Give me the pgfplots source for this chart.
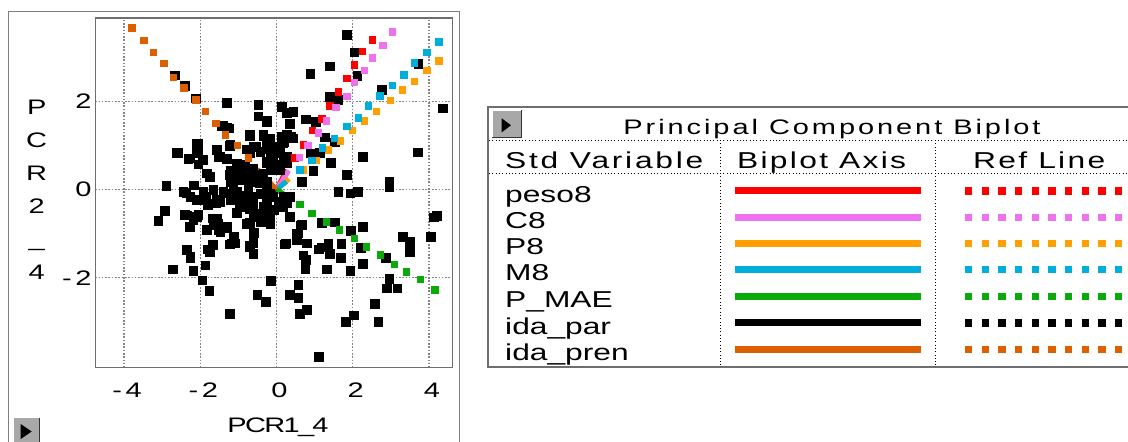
\documentclass[border=0pt]{standalone}
\usepackage{fontspec}
\setmainfont{Liberation Sans}[FakeStretch=1.38]
\usepackage{pgfplots}
\pgfplotsset{compat=1.18}
\definecolor{cRed}{HTML}{FF0000}
\definecolor{cPink}{HTML}{EE72EE}
\definecolor{cAmber}{HTML}{FFA000}
\definecolor{cCyan}{HTML}{00AEDC}
\definecolor{cGreen}{HTML}{0AAA0A}
\definecolor{cOrange}{HTML}{DD6000}
\definecolor{frameg}{HTML}{6E6E6E}
\definecolor{gridg}{HTML}{858585}
\definecolor{btn}{HTML}{A8A8A8}
\begin{document}
\begin{tikzpicture}
\path[use as bounding box] (0pt,0pt) rectangle (1128pt,-442pt);
\fill[white] (0pt,0pt) rectangle (1128pt,-442pt);
% left panel frame
\draw[gray, line width=1.2pt] (8.3pt,-460pt) -- (8.3pt,-11.7pt) -- (459.3pt,-11.7pt) -- (459.3pt,-460pt);
% left button
\fill[btn] (13.3pt,-417pt) rectangle (40pt,-446pt);
\draw[white, line width=1pt] (13.8pt,-446pt) -- (13.8pt,-417.5pt) -- (40pt,-417.5pt);
\draw[gray!40!black, line width=1pt] (39.5pt,-417.5pt) -- (39.5pt,-446pt);
\fill[black] (20.7pt,-424pt) -- (31.7pt,-431.5pt) -- (20.7pt,-439pt) -- cycle;
% axis labels
\node[font=\fontsize{21}{33}\selectfont, align=center, anchor=north, inner sep=0pt] at (36.7pt,-100pt) {P\\C\\R\\2\\\_\\4};
\node[font=\fontsize{21}{24}\selectfont\addfontfeatures{LetterSpace=-8}, anchor=base, inner sep=0pt] at (278pt,-432pt) {PCR1\_4};

\begin{axis}[at={(95.3pt,-367.7pt)}, anchor=south west, scale only axis,
  width=357.4pt, height=349.7pt,
  xmin=-4.756, xmax=4.625, ymin=-4.041, ymax=3.889,
  axis line style={draw=frameg, line width=1.3pt},
  xtick={-4,-2,0,2,4}, ytick={-2,0,2},
  xticklabels={{-\,4},{-\,2},0,2,4}, yticklabels={{-\,2},0,2},
  major tick length=0pt,
  grid=major, grid style={draw=gridg, line width=1.3pt, dash pattern=on 1.6pt off 1.7pt},
  tick label style={font=\fontsize{21}{24}\selectfont, inner sep=0pt},
  xticklabel style={anchor=north, yshift=-15pt, xshift=3pt},
  yticklabel style={anchor=east, xshift=-3.6pt},
  clip=true]
% observations
\addplot[only marks, mark=square*, mark size=4.3pt, black] coordinates {
(1.84,3.51) (2.04,3.11) (1.40,2.80) (0.88,2.62) (2.12,2.58) (3.72,2.85) (2.76,2.26) (1.40,2.11) (1.60,2.03) (4.36,1.84)
(0.13,1.88) (-0.48,1.92) (-1.31,1.97) (0.44,1.77) (0.26,1.74) (0.77,1.59) (1.03,1.54) (0.35,1.49) (-0.48,1.66) (-0.26,1.56)
(-1.45,1.44) (-1.31,1.40) (-0.70,1.22) (-0.35,1.22) (0.13,1.20) (0.39,1.20) (0.19,1.09) (1.27,1.19) (1.53,1.07) (-2.06,1.04)
(-1.23,0.99) (-0.79,0.91) (-0.53,0.98) (-0.26,0.99) (-0.09,0.88) (0.09,0.84) (-1.58,0.90) (-2.60,0.84) (-2.06,0.84) (-2.32,0.70)
(-1.53,0.75) (-1.31,0.70) (-2.06,0.57) (-1.93,0.66) (0.88,0.82) (1.14,0.84) (1.42,0.61) (2.26,0.75) (3.71,0.85) (0.96,0.43)
(1.84,0.34) (0.66,0.18) (2.96,0.18) (2.96,0.07) (1.62,-0.05) (1.93,-0.08) (2.13,-0.05) (-1.84,0.37) (-1.75,0.29) (-1.14,0.41)
(-0.88,0.45) (-0.61,0.48) (-0.26,0.60) (-0.09,0.67) (0.18,0.75) (0.26,0.60) (0.00,0.48) (-0.35,0.37) (-0.61,0.22) (-0.96,0.22)
(-1.23,0.34) (-0.44,0.14) (-0.26,0.07) (-0.74,-0.01) (-2.89,0.08) (-2.19,0.10) (-2.37,-0.07) (-2.10,-0.23) (-1.84,-0.16) (-1.58,-0.23)
(-1.31,-0.08) (-1.14,-0.01) (-0.96,-0.16) (-0.79,-0.23) (-0.61,-0.16) (-0.26,-0.08) (-0.09,-0.16) (0.18,-0.16) (0.35,-0.17) (0.26,-0.31)
(0.04,-0.27) (-1.80,-0.35) (-1.58,-0.31) (-1.14,-0.23) (-0.79,-0.39) (-0.61,-0.42) (-0.35,-0.39) (-0.18,-0.46) (-0.44,-0.54) (-0.61,-0.54)
(-1.05,-0.52) (-2.94,-0.48) (-3.11,-0.71) (-2.41,-0.57) (-2.06,-0.57) (-2.19,-0.69) (-2.28,-0.84) (-1.67,-0.65) (-1.53,-0.76) (-1.31,-0.84)
(-1.53,-0.91) (-1.84,-0.91) (-0.70,-0.75) (-0.35,-0.73) (-0.26,-0.61) (0.33,-0.61) (0.66,-0.80) (1.18,-0.75) (1.52,-0.74) (1.94,-0.93)
(2.26,-0.85) (4.21,-0.60) (4.12,-0.63) (4.05,-1.07) (3.32,-1.07) (3.49,-1.19) (3.50,-1.41) (-0.59,-0.98) (-1.11,-1.07) (-1.23,-1.24)
(-1.10,-1.22) (-1.67,-1.24) (-1.80,-1.35) (-0.61,-1.22) (-0.70,-1.31) (-0.61,-1.44) (-2.37,-1.37) (-2.26,-1.54) (-1.87,-1.72) (-2.72,-1.81)
(-2.19,-1.84) (-1.95,-2.06) (-1.77,-2.29) (-0.16,-2.07) (0.57,-0.99) (0.53,-1.13) (0.24,-1.22) (1.36,-1.23) (1.70,-1.23) (1.10,-1.35)
(1.18,-1.31) (1.40,-1.46) (1.68,-1.54) (0.76,-1.59) (0.75,-1.81) (1.31,-1.81) (1.93,-1.84) (2.26,-1.68) (2.21,-1.32) (2.87,-1.54)
(2.96,-2.02) (2.89,-2.24) (3.17,-2.24) (2.58,-2.59) (2.67,-3.00) (1.81,-3.00) (2.02,-2.85) (1.10,-3.79) (0.57,-2.16) (0.35,-2.38)
(0.57,-2.45) (0.61,-2.82) (0.79,-2.73) (-0.51,-2.38) (-0.29,-2.54) (-1.23,-2.82) (-2.67,2.59) (-2.41,2.35) (-2.12,2.07)
(-1.40,1.46) (-1.26,1.39) (-0.26,1.54) (0.35,1.50) (-0.70,1.24) (-0.35,1.24) (-0.17,1.16) (0.27,1.24) (0.44,1.16) (-2.10,1.05)
(-1.22,1.01) (-1.57,0.90) (-0.61,0.97) (-0.26,0.93) (0.00,0.97) (0.18,1.05) (-2.62,0.84) (-2.10,0.86) (-1.92,0.67) (-2.27,0.71)
(-1.48,0.74) (-1.31,0.71) (-0.70,0.82) (-0.43,0.86) (-0.17,0.74) (0.09,0.82) (0.27,0.74) (-1.05,0.59) (-0.83,0.56) (-0.26,0.63)
(0.00,0.56) (-1.83,0.37) (-1.75,0.29) (-1.22,0.44) (-1.09,0.37) (-0.87,0.44) (-0.70,0.37) (-0.17,0.44) (0.09,0.44) (-0.52,0.33)
(-1.22,0.18) (-0.96,0.22) (-0.70,0.18) (-0.26,0.18) (0.66,0.18) (-2.18,0.10) (-2.45,-0.05) (-2.27,-0.16) (-1.92,-0.05) (-1.66,-0.01)
(-1.40,-0.05) (-1.05,-0.05) (-0.78,-0.13) (-0.43,-0.09) (-0.17,-0.09) (-1.92,-0.24) (-1.75,-0.31) (-1.48,-0.28) (-1.22,-0.24) (-0.96,-0.20)
(-0.61,-0.31) (-0.26,-0.24) (0.09,-0.31) (0.35,-0.16) (-0.96,-0.39) (-0.70,-0.43) (-0.35,-0.43) (-0.08,-0.46) (0.18,-0.39) (-2.36,-0.58)
(-2.10,-0.62) (-1.57,-0.65) (-1.05,-0.54) (-0.52,-0.62) (-0.17,-0.62) (0.35,-0.62) (-2.27,-0.84) (-1.66,-0.81) (-1.31,-0.88) (-0.78,-0.77)
(-0.43,-0.73) (-0.17,-0.77) (0.62,-0.81) (-1.83,-0.92) (-1.48,-0.96) (-0.61,-0.99) (0.53,-0.99) (-1.13,-1.07) (-1.66,-1.26) (-1.75,-1.41)
(-1.18,-1.22) (-0.70,-1.26) (-0.61,-1.18) (0.22,-1.24) (0.53,-1.15) (0.79,-1.22) (-2.36,-1.37) (-2.27,-1.52) (-0.61,-1.45) (0.70,-1.49)
};
% reference lines
\addplot[only marks, mark=square*, mark size=3.2pt, cRed] coordinates {
(2.51,3.40) (2.25,3.13) (2.04,2.83) (1.84,2.52) (1.62,2.22) (1.40,1.90) (1.19,1.61) (0.93,1.34) (0.70,1.02) (0.48,0.72)};
\addplot[only marks, mark=square*, mark size=3.2pt, cPink] coordinates {
(3.03,3.58) (2.79,3.27) (2.51,2.99) (2.30,2.70) (2.04,2.43) (1.84,2.12) (1.55,1.86) (1.31,1.56) (1.10,1.29) (0.82,1.00) (0.60,0.73)};
\addplot[only marks, mark=square*, mark size=3.2pt, cAmber] coordinates {
(4.26,2.92) (3.94,2.70) (3.62,2.46) (3.30,2.26) (2.99,2.03) (2.61,1.77) (2.30,1.56) (1.98,1.34) (1.67,1.11) (1.36,0.90) (1.03,0.67) (0.70,0.45)};
\addplot[only marks, mark=square*, mark size=3.2pt, cCyan] coordinates {
(4.26,3.35) (3.94,3.12) (3.62,2.88) (3.34,2.60) (3.03,2.37) (2.71,2.13) (2.40,1.90) (2.15,1.63) (1.84,1.43) (1.52,1.16) (1.20,0.95) (0.92,0.67) (0.61,0.45)};
\addplot[only marks, mark=square*, mark size=3.2pt, cGreen] coordinates {
(0.61,-0.34) (0.92,-0.54) (1.30,-0.73) (1.65,-0.91) (2.04,-1.11) (2.36,-1.30) (2.72,-1.48) (3.09,-1.70) (3.41,-1.86) (3.77,-2.04) (4.15,-2.27)};
\addplot[only marks, mark=square*, mark size=3.2pt, cOrange] coordinates {
(-3.80,3.67) (-3.49,3.39) (-3.24,3.12) (-2.96,2.87) (-2.71,2.55) (-2.44,2.31) (-2.12,2.04) (-1.87,1.77) (-1.60,1.51) (-1.34,1.24) (-1.03,1.00) (-0.75,0.72)};
% biplot axes
\addplot[cRed, line width=5pt] coordinates {(0,0) (0.27,0.45)};
\addplot[cPink, line width=5pt] coordinates {(0,0) (0.32,0.43)};
\addplot[cAmber, line width=5pt] coordinates {(0,0) (0.33,0.24)};
\addplot[cCyan, line width=5pt] coordinates {(0,0) (0.26,0.18)};
\addplot[cGreen, line width=5pt] coordinates {(0,0) (0.22,-0.12)};
\addplot[black, line width=5pt] coordinates {(0,0) (-0.15,0.05)};
\addplot[cOrange, line width=5pt] coordinates {(0,0) (-0.51,0.46)};
\end{axis}

% legend table frame
\draw[frameg, line width=1.8pt] (1140pt,-107pt) -- (488pt,-107pt) -- (488pt,-367pt) -- (1140pt,-367pt);
\fill[btn] (491.7pt,-110pt) rectangle (521.7pt,-138.3pt);
\draw[white, line width=1pt] (492.2pt,-138.3pt) -- (492.2pt,-110.5pt) -- (521.7pt,-110.5pt);
\draw[gray!40!black, line width=1.2pt] (492pt,-137.7pt) -- (521.1pt,-137.7pt) -- (521.1pt,-110pt);
\fill[black] (501.7pt,-118.3pt) -- (511pt,-125.3pt) -- (501.7pt,-132.3pt) -- cycle;
\begin{scope}[black, line width=0.8pt, dash pattern=on 0.9pt off 2.4pt]
\draw (489pt,-140pt) -- (1128pt,-140pt);
\draw (489pt,-173pt) -- (1128pt,-173pt);
\draw (720.7pt,-140pt) -- (720.7pt,-366pt);
\draw (935.7pt,-140pt) -- (935.7pt,-366pt);
\end{scope}
\node[font=\fontsize{21}{24}\selectfont\addfontfeatures{LetterSpace=14}, anchor=base, inner sep=0pt] at (832pt,-134.5pt) {Principal Component Biplot};
\begin{scope}[every node/.style={font=\fontsize{23}{26}\selectfont, anchor=base west, inner sep=0pt}]
\node[font=\fontsize{23}{26}\selectfont\addfontfeatures{LetterSpace=12}] at (505pt,-168.5pt) {Std Variable};
\node[font=\fontsize{23}{26}\selectfont\addfontfeatures{LetterSpace=10}] at (737pt,-168.5pt) {Biplot Axis};
\node[font=\fontsize{23}{26}\selectfont\addfontfeatures{LetterSpace=10}] at (973pt,-168.5pt) {Ref Line};
\node at (505pt,-202pt) {peso8};
\node at (505pt,-228.6pt) {C8};
\node at (505pt,-254.8pt) {P8};
\node at (505pt,-280.8pt) {M8};
\node at (505pt,-307.3pt) {P\_MAE};
\node at (505pt,-334pt) {ida\_par};
\node at (505pt,-360.6pt) {ida\_pren};
\end{scope}

\begin{axis}[at={(488pt,-367pt)}, anchor=south west, scale only axis,
  width=652pt, height=260pt, xmin=488, xmax=1140, ymin=107, ymax=367,
  y dir=reverse, hide axis, clip=false]
\addplot[cRed, line width=7pt] coordinates {(735,190.7) (921,190.7)};
\addplot[cPink, line width=7pt] coordinates {(735,217.3) (921,217.3)};
\addplot[cAmber, line width=7pt] coordinates {(735,243.5) (921,243.5)};
\addplot[cCyan, line width=7pt] coordinates {(735,269.5) (921,269.5)};
\addplot[cGreen, line width=7pt] coordinates {(735,296) (921,296)};
\addplot[black, line width=7pt] coordinates {(735,322.7) (921,322.7)};
\addplot[cOrange, line width=7pt] coordinates {(735,349.3) (921,349.3)};
\addplot[only marks, mark=square*, mark size=3.1pt, cRed] coordinates {(968.3,190.7) (985,190.7) (1001.7,190.7) (1018.3,190.7) (1035,190.7) (1051.7,190.7) (1068.3,190.7) (1085,190.7) (1101.7,190.7) (1118.3,190.7)};
\addplot[only marks, mark=square*, mark size=3.1pt, cPink] coordinates {(968.3,217.3) (985,217.3) (1001.7,217.3) (1018.3,217.3) (1035,217.3) (1051.7,217.3) (1068.3,217.3) (1085,217.3) (1101.7,217.3) (1118.3,217.3)};
\addplot[only marks, mark=square*, mark size=3.1pt, cAmber] coordinates {(968.3,243.5) (985,243.5) (1001.7,243.5) (1018.3,243.5) (1035,243.5) (1051.7,243.5) (1068.3,243.5) (1085,243.5) (1101.7,243.5) (1118.3,243.5)};
\addplot[only marks, mark=square*, mark size=3.1pt, cCyan] coordinates {(968.3,269.5) (985,269.5) (1001.7,269.5) (1018.3,269.5) (1035,269.5) (1051.7,269.5) (1068.3,269.5) (1085,269.5) (1101.7,269.5) (1118.3,269.5)};
\addplot[only marks, mark=square*, mark size=3.1pt, cGreen] coordinates {(968.3,296) (985,296) (1001.7,296) (1018.3,296) (1035,296) (1051.7,296) (1068.3,296) (1085,296) (1101.7,296) (1118.3,296)};
\addplot[only marks, mark=square*, mark size=3.1pt, black] coordinates {(968.3,322.7) (985,322.7) (1001.7,322.7) (1018.3,322.7) (1035,322.7) (1051.7,322.7) (1068.3,322.7) (1085,322.7) (1101.7,322.7) (1118.3,322.7)};
\addplot[only marks, mark=square*, mark size=3.1pt, cOrange] coordinates {(968.3,349.3) (985,349.3) (1001.7,349.3) (1018.3,349.3) (1035,349.3) (1051.7,349.3) (1068.3,349.3) (1085,349.3) (1101.7,349.3) (1118.3,349.3)};
\end{axis}
\end{tikzpicture}
\end{document}
